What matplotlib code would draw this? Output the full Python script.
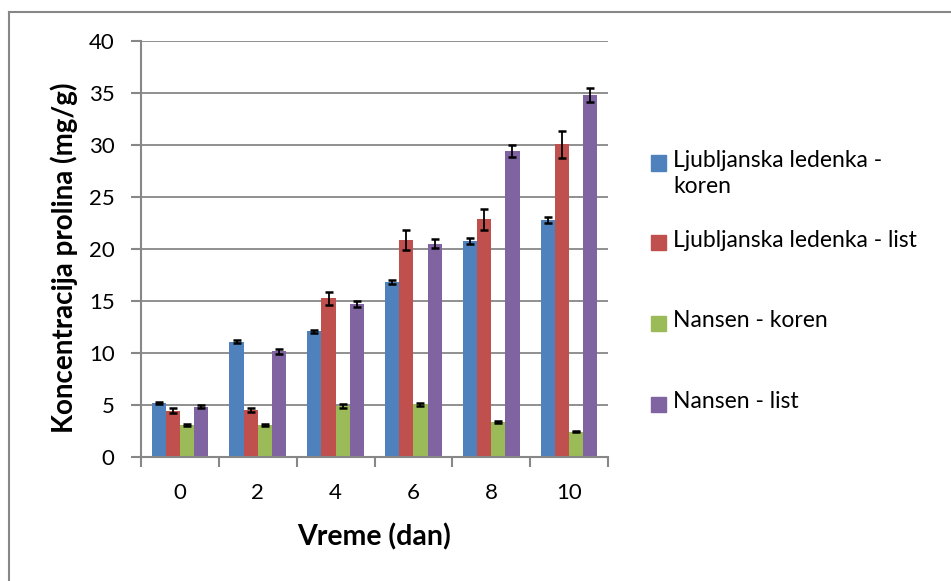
"""Koncentracija prolina po danima, stubičasti grafikon sa greškama."""

import matplotlib
matplotlib.use("Agg", force=True)
import matplotlib.pyplot as plt
import numpy as np
from matplotlib.lines import Line2D
from matplotlib.patches import Rectangle

plt.rcParams["font.family"] = ["Lato", "DejaVu Sans"]

days = ["0", "2", "4", "6", "8", "10"]
series = ["Ljubljanska ledenka -\nkoren", "Ljubljanska ledenka - list",
          "Nansen - koren", "Nansen - list"]
lj_koren = [5.2, 11.1, 12.1, 16.8, 20.8, 22.8]
lj_koren_err = [0.1, 0.15, 0.15, 0.2, 0.28, 0.28]
lj_list = [4.45, 4.5, 15.25, 20.85, 22.85, 30.05]
lj_list_err = [0.22, 0.22, 0.65, 0.95, 1.0, 1.3]
na_koren = [3.1, 3.05, 4.9, 5.05, 3.4, 2.45]
na_koren_err = [0.1, 0.08, 0.15, 0.15, 0.1, 0.08]
na_list = [4.85, 10.15, 14.7, 20.5, 29.4, 34.8]
na_list_err = [0.12, 0.2, 0.3, 0.42, 0.58, 0.7]

values = [lj_koren, lj_list, na_koren, na_list]
errors = [lj_koren_err, lj_list_err, na_koren_err, na_list_err]
colors = ["#4F81BD", "#C0504D", "#9BBB59", "#8064A2"]
GRAY = "#878787"

fig = plt.figure(figsize=(9.51, 5.81), dpi=100)
ax = fig.add_axes([141 / 951, 1 - 457 / 581, (608 - 141) / 951, (457 - 41) / 581])

x = np.arange(len(days))
w = 1 / 5.5
for i, (vals, errs, col) in enumerate(zip(values, errors, colors)):
    ax.bar(x + (i - 1.5) * w, vals, w, color=col, edgecolor="none", zorder=2)
    ax.errorbar(x + (i - 1.5) * w, vals, yerr=errs, fmt="none", ecolor="black",
                elinewidth=1.3, capsize=3.2, capthick=1.8, zorder=3)

ax.set_xlim(-0.5, len(days) - 0.5)
ax.set_ylim(0, 40)
ax.set_yticks(range(0, 41, 5))
ax.yaxis.grid(True, color=GRAY, linewidth=1.3, zorder=0)
ax.set_axisbelow(True)

ax.set_xticks(x)
ax.set_xticklabels(days)
ax.set_xticks(np.arange(-0.5, len(days)), minor=True)
ax.tick_params(axis="x", which="major", length=0, pad=19, labelsize=16)
ax.tick_params(axis="x", which="minor", length=7, width=1.5, color=GRAY)
ax.tick_params(axis="y", length=7, width=1.5, color=GRAY, pad=12, labelsize=16)

for side in ("top", "right"):
    ax.spines[side].set_visible(False)
for side in ("left", "bottom"):
    ax.spines[side].set_color(GRAY)
    ax.spines[side].set_linewidth(1.5)

fig.text(374 / 951, 1 - 537 / 581, "Vreme (dan)", ha="center", va="center",
         fontsize=20.5, fontweight="bold")
fig.text(64 / 951, 1 - 258 / 581, "Koncentracija prolina (mg/g)", ha="center",
         va="center", rotation=90, fontsize=20, fontweight="bold")

# Legenda: kvadratić poravnat sa prvim redom teksta, kao u Excelu
legend_y = [163, 243, 323, 404]
for label, col, yy in zip(series, colors, legend_y):
    fig.patches.append(Rectangle((651 / 951, 1 - (yy + 7.5) / 581), 15 / 951, 15 / 581,
                                 transform=fig.transFigure, color=col))
    fig.text(673 / 951, 1 - (yy - 13) / 581, label, ha="left", va="top",
             fontsize=16.5, linespacing=1.3)

# Okvir grafikona (vidljiv gornji i levi rub)
fig.add_artist(Line2D([8.5 / 951, 1], [1 - 12 / 581] * 2, color=GRAY, linewidth=1.5,
                      transform=fig.transFigure))
fig.add_artist(Line2D([8.5 / 951] * 2, [0, 1 - 12 / 581], color=GRAY, linewidth=1.5,
                      transform=fig.transFigure))

fig.savefig("out.png", dpi=100)
